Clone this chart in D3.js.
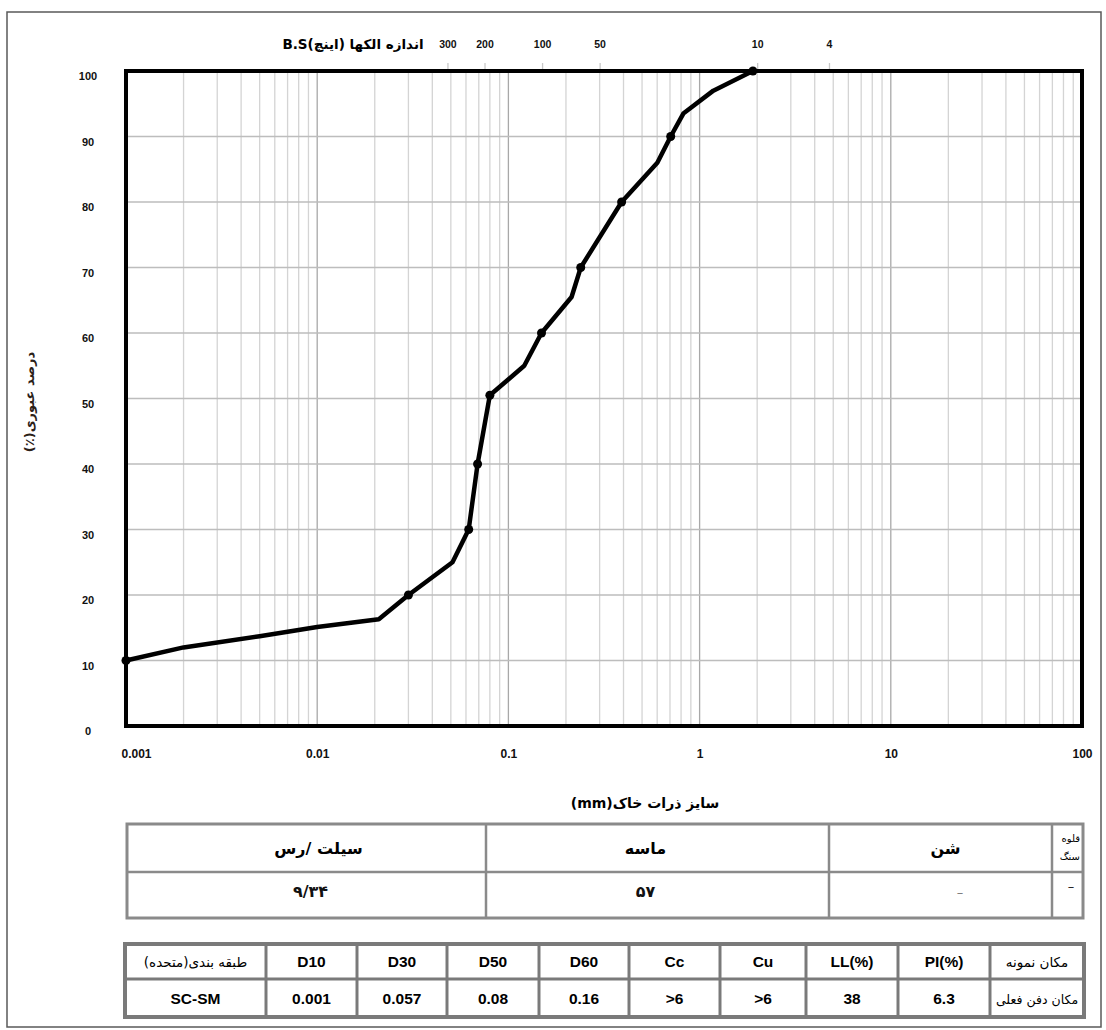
<!DOCTYPE html>
<html>
<head>
<meta charset="utf-8">
<script src="https://cdn.jsdelivr.net/npm/d3@7"></script>
<style>
  body { margin: 0; background: #fff; }
  text { font-family: "Liberation Sans", Arial, sans-serif; }
  .fa { font-family: "DejaVu Sans", sans-serif; }
</style>
</head>
<body>
<div id="plot_div"></div>
<script>
const width  = 1106;
const height = 1030;
var margin = {top: 71, right: 24, bottom: 304, left: 126}

// grain size curve (mm, % passing)
const sizes   = [0.001, 0.002, 0.005, 0.01, 0.021, 0.030, 0.051, 0.062, 0.069, 0.080,
                 0.121, 0.149, 0.214, 0.239, 0.391, 0.601, 0.706, 0.822, 1.18, 1.9];
const passing = [10, 12, 13.7, 15.1, 16.3, 20, 25, 30, 40, 50.5,
                 55, 60, 65.5, 70, 80, 86, 90, 93.5, 97, 100];
const marked  = [1, 0, 0, 0, 0, 1, 0, 1, 1, 1,
                 0, 1, 0, 1, 1, 0, 1, 0, 0, 1];

// bottom axis and top sieve axis
const sizeTicks  = [0.001, 0.01, 0.1, 1, 10, 100];
const sieveNames = ["300", "200", "100", "50", "10", "4"];
const sieveMm    = [0.048, 0.075, 0.15, 0.3, 2, 4.75];
const passTicks  = [0, 10, 20, 30, 40, 50, 60, 70, 80, 90, 100];

// soil fractions table
const fracHeads  = ["سیلت /رس", "ماسه", "شن", "قلوه سنگ"];
const fracValues = ["۹/۳۴", "۵۷", "–", "–"];

// parameters table
const paramHeads  = ["طبقه بندی(متحده)", "D10", "D30", "D50", "D60", "Cc", "Cu", "LL(%)", "PI(%)", "مکان نمونه"];
const paramValues = ["SC-SM", "0.001", "0.057", "0.08", "0.16", ">6", ">6", "38", "6.3", "مکان دفن فعلی"];

const plotRight  = 1082;
const plotBottom = 726;

const svg = d3.create("svg")
      .attr("width", width)
      .attr("height", height)
      .attr("viewBox", [0, 0, width, height])

// outer page border
svg.append("rect")
    .attr("x", 7).attr("y", 12)
    .attr("width", 1094).attr("height", 1015)
    .attr("fill", "none")
    .attr("stroke", "#595959")
    .attr("stroke-width", 1.5)

const x = d3.scaleLog()
      .domain([0.001, 100])
      .range([margin.left, plotRight]);

const y = d3.scaleLinear()
      .domain([0, 100])
      .range([plotBottom, margin.top]);

// -----------------------------------------//
// grid
// -----------------------------------------//
const decades = new Set(sizeTicks)
svg.append("g")
    .selectAll("line")
    .data(x.ticks())
    .join("line")
    .attr("x1", d => x(d)).attr("x2", d => x(d))
    .attr("y1", margin.top).attr("y2", plotBottom)
    .attr("stroke", d => decades.has(d) ? "#a8a8a8" : "#d4d4d4")
    .attr("stroke-width", 1.3)

svg.append("g")
    .selectAll("line")
    .data(passTicks)
    .join("line")
    .attr("x1", margin.left).attr("x2", plotRight)
    .attr("y1", d => y(d)).attr("y2", d => y(d))
    .attr("stroke", "#bdbdbd")
    .attr("stroke-width", 1.3)

// -----------------------------------------//
// axes
// -----------------------------------------//
const yAxis = svg.append("g")
    .attr("transform", `translate(${margin.left},0)`)
    .call(d3.axisLeft(y).tickValues(passTicks).tickSize(0))
yAxis.select(".domain").remove()
yAxis.selectAll("text")
    .attr("x", -38)
    .attr("y", 5)
    .style("text-anchor", "middle")
    .style("font-size", "11px")
    .style("font-weight", "bold")
    .attr("fill", "#111")

const xAxis = svg.append("g")
    .attr("transform", `translate(0,${plotBottom})`)
    .call(d3.axisBottom(x).tickValues(sizeTicks).tickFormat(d3.format("~g")).tickSize(0).tickPadding(23))
xAxis.select(".domain").remove()
xAxis.selectAll("text")
    .attr("dx", (d, i) => i == 0 ? 10 : 0)
    .style("font-family", "'Liberation Sans Narrow', 'Arial Narrow', sans-serif")
    .style("font-size", "12px")
    .style("font-weight", "bold")
    .attr("fill", "#111")

const topAxis = svg.append("g")
    .attr("transform", `translate(0,${margin.top})`)
    .call(d3.axisTop(x).tickValues(sieveMm).tickFormat((d, i) => sieveNames[i]).tickSize(8).tickPadding(15))
topAxis.select(".domain").remove()
topAxis.selectAll("line").attr("stroke", "#c8c8c8").attr("stroke-width", 1.3)
topAxis.selectAll("text")
    .style("font-size", "10.5px")
    .style("font-weight", "bold")
    .attr("fill", "#111")

// axis titles
svg.append("text")
    .attr("class", "fa")
    .attr("x", 353).attr("y", 49)
    .attr("direction", "rtl")
    .style("text-anchor", "middle")
    .style("font-size", "13.5px")
    .style("font-weight", "bold")
    .text("اندازه الکها (اینچ)B.S")

svg.append("text")
    .attr("class", "fa")
    .attr("transform", "translate(34,402) rotate(-90)")
    .attr("direction", "rtl")
    .style("text-anchor", "middle")
    .style("font-size", "13px")
    .style("font-weight", "bold")
    .attr("fill", "#2b2118")
    .text("درصد عبوری(٪)")

svg.append("text")
    .attr("class", "fa")
    .attr("x", 645).attr("y", 808)
    .attr("direction", "rtl")
    .style("text-anchor", "middle")
    .style("font-size", "14px")
    .style("font-weight", "bold")
    .text("سایز ذرات خاک(mm)")

// -----------------------------------------//
// grading curve
// -----------------------------------------//
const curve = sizes.map((s, i) => ({size: s, pass: passing[i], mark: marked[i]}))

svg.append("path")
    .datum(curve)
    .attr("fill", "none")
    .attr("stroke", "black")
    .attr("stroke-width", 4.5)
    .attr("stroke-linejoin", "round")
    .attr("d", d3.line().x(d => x(d.size)).y(d => y(d.pass)))

svg.append("g")
    .selectAll("circle")
    .data(curve.filter(d => d.mark))
    .join("circle")
    .attr("cx", d => x(d.size))
    .attr("cy", d => y(d.pass))
    .attr("r", 4.5)
    .attr("fill", "black")

// plot frame
svg.append("rect")
    .attr("x", margin.left).attr("y", margin.top)
    .attr("width", plotRight - margin.left)
    .attr("height", plotBottom - margin.top)
    .attr("fill", "none")
    .attr("stroke", "black")
    .attr("stroke-width", 4)

// -----------------------------------------//
// tables
// -----------------------------------------//
function draw_table(cols, rows, stroke, outerW, innerW){
    const g = svg.append("g")
    g.selectAll("line.v")
        .data(cols.slice(1, -1))
        .join("line")
        .attr("x1", d => d).attr("x2", d => d)
        .attr("y1", rows[0]).attr("y2", rows[rows.length - 1])
        .attr("stroke", stroke).attr("stroke-width", innerW)
    g.selectAll("line.h")
        .data(rows.slice(1, -1))
        .join("line")
        .attr("x1", cols[0]).attr("x2", cols[cols.length - 1])
        .attr("y1", d => d).attr("y2", d => d)
        .attr("stroke", stroke).attr("stroke-width", innerW)
    g.append("rect")
        .attr("x", cols[0]).attr("y", rows[0])
        .attr("width", cols[cols.length - 1] - cols[0])
        .attr("height", rows[rows.length - 1] - rows[0])
        .attr("fill", "none")
        .attr("stroke", stroke).attr("stroke-width", outerW)
    return g
}

const isFa = s => /[\u0600-\u06FF]/.test(s)
const mid  = (a, i) => (a[i] + a[i + 1]) / 2

// fractions
const fracCols = [127, 486, 829, 1052, 1083]
const fracRows = [824, 872, 918]
const t1 = draw_table(fracCols, fracRows, "#8a8a8a", 3, 2.5)

t1.selectAll("text.head")
    .data(fracHeads.slice(0, 3))
    .join("text")
    .attr("class", "fa")
    .attr("x", (d, i) => mid(fracCols, i) + [12, -12, 5][i])
    .attr("y", 854)
    .style("text-anchor", "middle")
    .style("font-size", "16px")
    .style("font-weight", "bold")
    .text(d => d)

fracHeads[3].split(" ").forEach((w, k) => {
    t1.append("text")
        .attr("class", "fa")
        .attr("x", 1080).attr("y", 842 + k * 18)
        .attr("direction", "rtl")
        .style("text-anchor", "start")
        .style("font-size", "10px")
        .text(w)
})

t1.selectAll("text.val")
    .data(fracValues)
    .join("text")
    .attr("class", "fa")
    .attr("x", (d, i) => i == 2 ? 960 : i == 3 ? 1071 : mid(fracCols, i) + [4, -12][i])
    .attr("y", (d, i) => i == 3 ? 891 : 897)
    .style("text-anchor", "middle")
    .style("font-size", (d, i) => i < 2 ? "16px" : "13px")
    .style("font-weight", (d, i) => i < 2 ? "bold" : "normal")
    .attr("fill", (d, i) => i == 2 ? "#777" : "#111")
    .text(d => d)

// parameters
const paramCols = [125, 266, 357, 447, 539, 629, 720, 806, 898, 990, 1084]
const paramRows = [944, 979, 1017]
const t2 = draw_table(paramCols, paramRows, "#7a7a7a", 4, 3)

t2.selectAll("text.head")
    .data(paramHeads)
    .join("text")
    .attr("class", d => isFa(d) ? "fa" : null)
    .attr("x", (d, i) => mid(paramCols, i))
    .attr("y", 967)
    .attr("direction", d => isFa(d) ? "rtl" : "ltr")
    .style("text-anchor", "middle")
    .style("font-size", d => isFa(d) ? "13.5px" : "15.5px")
    .style("font-weight", d => isFa(d) ? "normal" : "bold")
    .text(d => d)

t2.selectAll("text.val")
    .data(paramValues)
    .join("text")
    .attr("class", d => isFa(d) ? "fa" : null)
    .attr("x", (d, i) => mid(paramCols, i))
    .attr("y", 1004)
    .attr("direction", d => isFa(d) ? "rtl" : "ltr")
    .style("text-anchor", "middle")
    .style("font-size", d => isFa(d) ? "12.5px" : "15.5px")
    .style("font-weight", d => isFa(d) ? "normal" : "bold")
    .text(d => d)

plot_div.append(svg.node());
</script>
</body>
</html>
